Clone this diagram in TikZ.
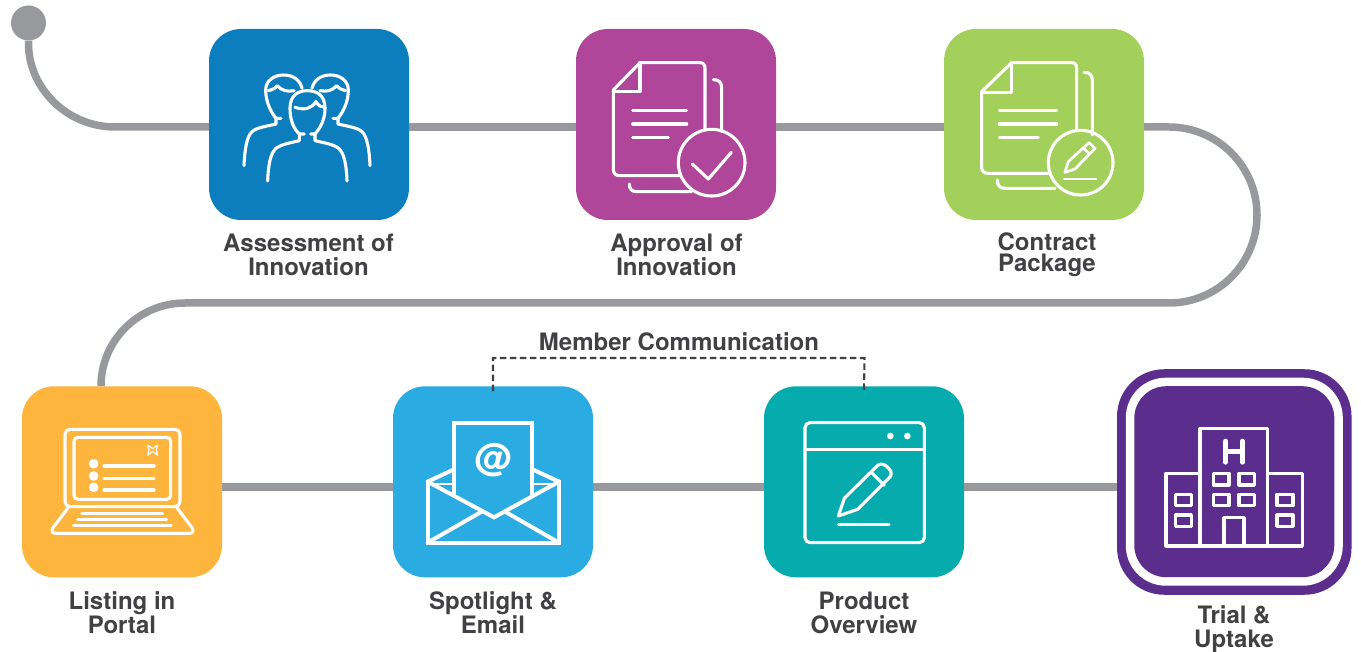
\documentclass[tikz,border=0pt]{standalone}
\usepackage{fontspec}
\setmainfont{TeX Gyre Heros}
\definecolor{cTrack}{HTML}{98999C}
\definecolor{cText}{HTML}{414042}
\definecolor{cBlue}{HTML}{0C7EBD}
\definecolor{cMag}{HTML}{B0469A}
\definecolor{cGreen}{HTML}{A3CF5B}
\definecolor{cOrange}{HTML}{FDB53D}
\definecolor{cSky}{HTML}{2AABE2}
\definecolor{cTeal}{HTML}{06ABAE}
\definecolor{cPurple}{HTML}{5B2D8C}
\tikzset{
  stepbox/.style={rectangle,rounded corners=32pt,minimum width=200pt,minimum height=191pt,inner sep=0pt,fill=#1},
  track/.style={draw=cTrack,line width=7.5pt},
  glyph/.style={draw=white,line width=3.1pt,line cap=round,line join=round},
  glyphthick/.style={draw=white,line width=4pt,line cap=round,line join=miter},
  label/.style={text=cText,font=\fontsize{24}{24}\selectfont\bfseries,align=center,inner sep=0pt},
  labeltight/.style={text=cText,font=\fontsize{24}{21}\selectfont\bfseries,align=center,inner sep=0pt},
  bracket/.style={draw=cText,line width=2.1pt,dash pattern=on 6.5pt off 3.5pt},
  zoomA/.style={shift={(#1)},x=0.33333pt,y=-0.33333pt}
}
\begin{document}
\begin{tikzpicture}[x=1pt,y=-1pt]
\useasboundingbox (0,0) rectangle (1361,652);
% step boxes
\node[stepbox=cBlue] (b1) at (309,124.5) {};
\node[stepbox=cMag] (b2) at (676,124.5) {};
\node[stepbox=cGreen] (b3) at (1044,124.5) {};
\node[stepbox=cOrange] (b4) at (122,481.8) {};
\node[stepbox=cSky] (b5) at (493,481.8) {};
\node[stepbox=cTeal] (b6) at (864,481.8) {};
\node[rectangle,rounded corners=47pt,minimum width=234.5pt,minimum height=225.5pt,inner sep=0pt,fill=cPurple] (b7o) at (1234.3,482) {};
\node[rectangle,rounded corners=40pt,minimum width=217pt,minimum height=208pt,inner sep=0pt,fill=white] (b7w) at (1234.3,481.7) {};
\node[stepbox=cPurple] (b7) at (1234.3,481.7) {};
\node[circle,fill=cTrack,minimum size=35pt,inner sep=0pt] (start) at (28.5,23) {};
% connectors
\draw[track] (start.south) -- ++(0,3) .. controls (28.5,88) and (67,127) .. (115,127) -- ([yshift=-2.5pt]b1.west);
\draw[track] ([yshift=-2.5pt]b1.east) -- ([yshift=-2.5pt]b2.west);
\draw[track] ([yshift=-2.5pt]b2.east) -- ([yshift=-2.5pt]b3.west);
\draw[track] ([yshift=-2.5pt]b3.east) -- (1169,127) .. controls (1217.6,127) and (1257,166.4) .. (1257,215) .. controls (1257,263.6) and (1217.6,303) .. (1169,303) -- (185,303) .. controls (138.6,303) and (101,340.6) .. ([xshift=-21pt]b4.north);
\draw[track] ([yshift=-5.2pt]b4.east) -- ([yshift=-5.2pt]b5.west);
\draw[track] ([yshift=-5.2pt]b5.east) -- ([yshift=-5.2pt]b6.west);
\draw[track] ([yshift=-5.2pt]b6.east) -- (b7o.west |- 0,487);
% labels
\node[label] (l1) at (308.5,255) {Assessment of\\Innovation};
\node[label] (l2) at (676.5,255) {Approval of\\Innovation};
\node[labeltight] (l3) at (1047,255) {Contract\\Package};
\node[label] (l4) at (122,613) {Listing in\\Portal};
\node[label] (l5) at (493,613) {Spotlight \&\\Email};
\node[label] (l6) at (864,613) {Product\\Overview};
\node[label] (l7) at (1234,629) {Trial \&\\Uptake};
\node[label] (mc) at (679,342) {Member Communication};
% bracket
\coordinate (d1) at ([yshift=-5pt]b5.north);
\coordinate (d2) at ([yshift=-5pt]b6.north);
\draw[bracket] (d1) -- (493,358) -- (864.5,358) -- (d2);
% people
\begin{scope}[zoomA={200,20}]
\draw[glyph] (203,483) .. controls (205,430) and (212,400) .. (228,385) .. controls (245,372) and (275,368) .. (298,362) -- (298,342) -- (313,342);
\draw[glyph] (298,342) .. controls (280,325) and (270,300) .. (270,265) .. controls (270,225) and (295,212) .. (322,212) .. controls (350,212) and (375,225) .. (375,265) .. controls (375,300) and (360,325) .. (345,342);
\draw[glyph] (441,483) .. controls (439,430) and (432,400) .. (416,385) .. controls (399,372) and (369,368) .. (345,362) -- (345,342) -- (332,342);
\draw[glyph] (285,262) .. controls (315,272) and (335,265) .. (348,245) .. controls (355,258) and (365,262) .. (375,262);
% left
\draw[glyph] (132,437) .. controls (134,390) and (140,350) .. (156,335) .. controls (170,322) and (205,318) .. (228,312) -- (228,295) -- (243,295);
\draw[glyph] (228,295) .. controls (208,270) and (197,240) .. (197,210) .. controls (197,180) and (225,165) .. (250,165) .. controls (280,165) and (300,180) .. (306,205);
\draw[glyph] (205,212) .. controls (220,208) and (228,204) .. (232,197) .. controls (245,212) and (262,216) .. (282,212);
% right
\draw[glyph] (510,437) .. controls (508,390) and (502,350) .. (486,335) .. controls (472,322) and (437,318) .. (414,312) -- (414,295) -- (399,295);
\draw[glyph] (414,295) .. controls (434,270) and (445,240) .. (445,210) .. controls (445,180) and (417,165) .. (392,165) .. controls (362,165) and (342,180) .. (336,205);
\draw[glyph] (437,212) .. controls (422,208) and (414,204) .. (410,197) .. controls (397,212) and (380,216) .. (360,212);
\end{scope}
% document + check
\begin{scope}[zoomA={570,20}]
\draw[glyph] (405,328) -- (405,145) .. controls (405,135) and (400,128) .. (390,128) -- (210,128) -- (130,210) -- (130,447) .. controls (130,460) and (137,467) .. (150,467) -- (328,467);
\draw[glyph] (210,128) -- (210,215) -- (130,215);
\draw[glyph] (188,272) -- (350,272) (188,312) -- (350,312) (188,352) -- (295,352);
\draw[glyph] (430,179) .. controls (447,179) and (455,187) .. (455,204) -- (455,335);
\draw[glyph] (178,492) .. controls (178,508) and (186,515) .. (200,515) -- (365,515);
\draw[glyph] (425,428) circle[radius=100];
\draw[glyph] (367,432) -- (415,477) -- (484,397);
\end{scope}
% document + pencil
\begin{scope}[zoomA={935,20}]
\draw[glyph] (425,332) -- (425,145) .. controls (425,135) and (420,128) .. (410,128) -- (230,128) -- (140,215) -- (140,442) .. controls (140,454) and (147,460) .. (160,460) -- (340,460);
\draw[glyph] (230,128) -- (230,218) -- (140,218);
\draw[glyph] (193,272) -- (365,272) (193,312) -- (365,312) (193,352) -- (310,352);
\draw[glyph] (447,157) .. controls (464,157) and (472,165) .. (472,182) -- (472,345);
\draw[glyph] (187,480) .. controls (187,497) and (195,505) .. (210,505) -- (360,505);
\draw[glyph] (437,428) circle[radius=97];
\draw[glyph,line width=2.7pt] (390,457) -- (400,425) -- (462,368) -- (480,385) -- (420,447) -- cycle;
\draw[glyph,line width=2.7pt] (445,384) -- (463,402);
\draw[glyph,line width=2.7pt] (388,477) -- (483,477);
\end{scope}
% laptop
\begin{scope}[zoomA={15,380}]
\draw[glyph,rounded corners=5pt] (150,148) rectangle (495,380);
\draw[glyph,rounded corners=4pt] (177,172) rectangle (467,358);
\draw[glyph] (158,385) -- (114,443) .. controls (108,453) and (112,460) .. (122,460) -- (523,460) .. controls (533,460) and (537,453) .. (531,443) -- (487,385);
\draw[glyph] (200,400) -- (443,400) (188,418) -- (455,418) (175,436) -- (468,436);
\draw[glyph] (267,258) -- (417,258) (267,295) -- (417,295) (267,330) -- (417,330);
\fill[white] (236,251) circle[radius=14.5] (236,288) circle[radius=14.5] (236,322) circle[radius=14.5];
\draw[draw=white,line width=1.2pt,line join=round] (398,195) -- (413,206) -- (428,195) -- (424,210) -- (428,226) -- (413,214) -- (398,226) -- (402,210) -- cycle;
\end{scope}
% envelope
\begin{scope}[zoomA={385,380}]
\draw[glyphthick] (207,345) -- (207,128) -- (442,128) -- (442,345);
\draw[glyphthick] (128,305) -- (128,488) -- (522,488) -- (522,305);
\draw[glyphthick] (128,305) -- (207,268) (522,305) -- (442,268);
\draw[glyphthick] (128,305) -- (327,412) -- (522,305);
\draw[glyphthick] (128,488) -- (290,395) (522,488) -- (360,395);
\draw[draw=white,line width=2.4pt] (136,312) -- (207,312) (442,312) -- (514,312);
\node[text=white,font=\fontsize{38}{38}\selectfont\bfseries,inner sep=0pt] (at1) at (325,240) {@};
\end{scope}
% window + pencil
\begin{scope}[zoomA={755,380}]
\draw[glyph,rounded corners=5pt] (150,128) rectangle (508,488);
\draw[glyph] (150,208) -- (508,208);
\fill[white] (406,168) circle[radius=10] (457,168) circle[radius=10];
\draw[glyph] (250,408) -- (268,355) -- (362,262) .. controls (372,250) and (382,250) .. (394,258) -- (402,266) .. controls (412,276) and (410,288) .. (400,296) -- (308,388) -- cycle;
\draw[glyph] (350,278) -- (388,316);
\draw[glyph] (250,433) -- (402,433);
\end{scope}
% hospital
\begin{scope}[zoomA={1110,365}]
\draw[glyph] (270,325) -- (270,190) -- (473,190) -- (473,325);
\draw[glyph] (270,325) -- (270,540) (473,325) -- (473,540);
\draw[glyph] (270,325) -- (168,325) -- (168,543) -- (577,543) -- (577,325) -- (473,325);
\draw[glyph] (310,325) rectangle (357,360) (387,325) rectangle (433,360) (310,388) rectangle (357,422) (387,388) rectangle (433,422);
\draw[glyph] (196,388) rectangle (244,422) (196,450) rectangle (244,484) (501,388) rectangle (549,422) (501,450) rectangle (549,484);
\draw[glyph] (342,543) -- (342,458) -- (402,458) -- (402,543);
\draw[draw=white,line width=4.6pt,line cap=round] (347,228) -- (347,292) (397,228) -- (397,292) (347,260) -- (397,260);
\end{scope}
\end{tikzpicture}
\end{document}
